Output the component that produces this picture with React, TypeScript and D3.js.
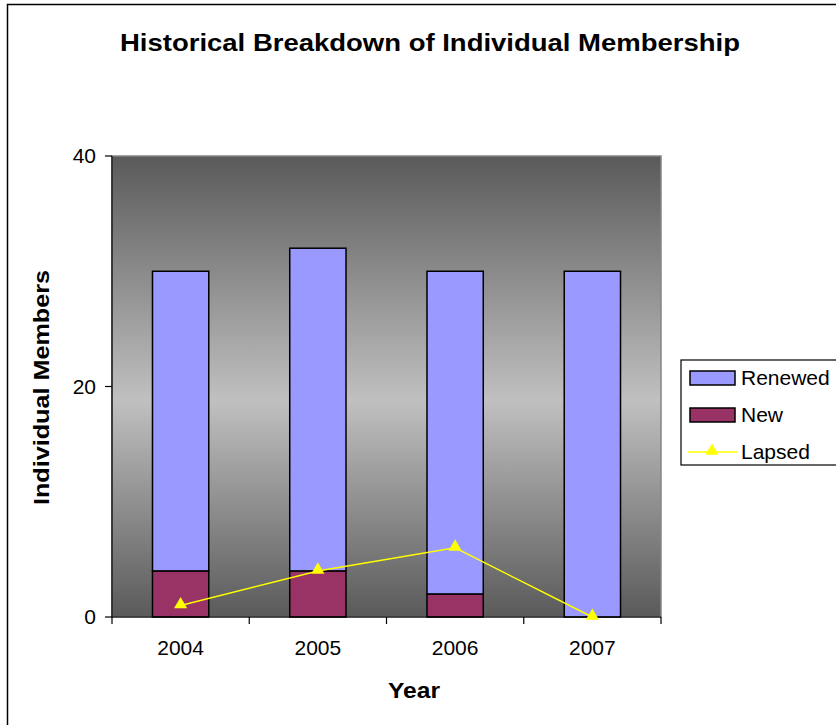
import { useEffect, useRef } from "react";
import * as d3 from "d3";

const years = ["2004", "2005", "2006", "2007"];
const newMembers = [4, 4, 2, 0];
const renewed = [26, 28, 28, 30];
const lapsed = [1, 4, 6, 0];
const yTicks = [0, 20, 40];
const seriesNames = ["Renewed", "New", "Lapsed"];

const W = 836;
const H = 725;
const FONT = "'Liberation Sans', Arial, sans-serif";

export default function App() {
  const ref = useRef<SVGSVGElement>(null);

  useEffect(() => {
    document.body.style.margin = "0";
    const svg = d3.select(ref.current);
    svg.selectAll("*").remove();

    const m = { left: 112, top: 156, right: 661, bottom: 617 };
    const x = d3.scaleBand().domain(years).range([m.left, m.right]).paddingInner(0.59).paddingOuter(0.295);
    const y = d3.scaleLinear().domain([0, 40]).range([m.bottom, m.top]);

    // frame
    svg.append("rect").attr("x", 7.5).attr("y", 4.5).attr("width", W).attr("height", H)
      .attr("fill", "white").attr("stroke", "#000").attr("stroke-width", 1.5);

    const defs = svg.append("defs");
    const grad = defs.append("linearGradient").attr("id", "bg").attr("x1", 0).attr("y1", 0).attr("x2", 0).attr("y2", 1);
    grad.append("stop").attr("offset", "0%").attr("stop-color", "#5a5a5a");
    grad.append("stop").attr("offset", "53%").attr("stop-color", "#c0c0c0");
    grad.append("stop").attr("offset", "100%").attr("stop-color", "#5a5a5a");

    svg.append("rect").attr("x", m.left).attr("y", m.top)
      .attr("width", m.right - m.left).attr("height", m.bottom - m.top)
      .attr("fill", "url(#bg)").attr("stroke", "#858585").attr("stroke-width", 1.5);

    // title
    svg.append("text").attr("x", 120).attr("y", 51)
      .attr("font-family", FONT).attr("font-weight", "bold").attr("font-size", 24)
      .attr("textLength", 620).attr("lengthAdjust", "spacingAndGlyphs")
      .text("Historical Breakdown of Individual Membership");

    // bars
    const g = svg.append("g");
    years.forEach((yr, i) => {
      const bx = x(yr)!;
      const bw = x.bandwidth();
      if (newMembers[i] > 0) {
        g.append("rect").attr("x", bx).attr("y", y(newMembers[i])).attr("width", bw)
          .attr("height", y(0) - y(newMembers[i])).attr("fill", "#993366")
          .attr("stroke", "#000").attr("stroke-width", 1.5);
      }
      const top = newMembers[i] + renewed[i];
      g.append("rect").attr("x", bx).attr("y", y(top)).attr("width", bw)
        .attr("height", y(newMembers[i]) - y(top)).attr("fill", "#9999ff")
        .attr("stroke", "#000").attr("stroke-width", 1.5);
    });

    // axes
    const ax = svg.append("g").attr("font-family", FONT);
    ax.append("line").attr("x1", m.left).attr("x2", m.left).attr("y1", m.top).attr("y2", m.bottom)
      .attr("stroke", "#000").attr("stroke-width", 1.2);
    ax.append("line").attr("x1", m.left).attr("x2", m.right).attr("y1", m.bottom).attr("y2", m.bottom)
      .attr("stroke", "#000").attr("stroke-width", 1.2);
    yTicks.forEach((t) => {
      ax.append("line").attr("x1", m.left - 7).attr("x2", m.left).attr("y1", y(t)).attr("y2", y(t))
        .attr("stroke", "#000").attr("stroke-width", 1.2);
      ax.append("text").attr("x", 96).attr("y", y(t)).attr("dy", "0.35em").attr("text-anchor", "end")
        .attr("font-size", 21).text(String(t));
    });
    const step = x.step();
    for (let i = 0; i <= years.length; i++) {
      const tx = m.left + i * step;
      ax.append("line").attr("x1", tx).attr("x2", tx).attr("y1", m.bottom).attr("y2", m.bottom + 7)
        .attr("stroke", "#000").attr("stroke-width", 1.2);
    }
    years.forEach((yr) => {
      ax.append("text").attr("x", x(yr)! + x.bandwidth() / 2).attr("y", 655).attr("text-anchor", "middle")
        .attr("font-size", 21).text(yr);
    });
    ax.append("text").attr("x", 388).attr("y", 698)
      .attr("font-size", 22).attr("font-weight", "bold")
      .attr("textLength", 52).attr("lengthAdjust", "spacingAndGlyphs").text("Year");
    ax.append("text").attr("transform", `translate(49,505) rotate(-90)`)
      .attr("font-size", 22).attr("font-weight", "bold")
      .attr("textLength", 235).attr("lengthAdjust", "spacingAndGlyphs").text("Individual Members");

    // lapsed line
    const cx = (i: number) => x(years[i])! + x.bandwidth() / 2;
    const lineFn = d3.line<number>().x((_, i) => cx(i)).y((d) => y(d));
    svg.append("path").datum(lapsed).attr("d", lineFn).attr("fill", "none")
      .attr("stroke", "#ffff00").attr("stroke-width", 1.5);
    const tri = d3.symbol().type(d3.symbolTriangle).size(75);
    lapsed.forEach((v, i) => {
      svg.append("path").attr("d", tri()).attr("transform", `translate(${cx(i)},${y(v) - 1})`)
        .attr("fill", "#ffff00");
    });

    // legend
    const lg = svg.append("g").attr("font-family", FONT);
    lg.append("rect").attr("x", 681).attr("y", 360).attr("width", 170).attr("height", 105)
      .attr("fill", "white").attr("stroke", "#000").attr("stroke-width", 1.2);
    const colors = ["#9999ff", "#993366"];
    seriesNames.forEach((name, i) => {
      const cy = 378 + i * 37;
      if (i < 2) {
        lg.append("rect").attr("x", 690).attr("y", cy - 7).attr("width", 45).attr("height", 14)
          .attr("fill", colors[i]).attr("stroke", "#000").attr("stroke-width", 1.5);
      } else {
        lg.append("line").attr("x1", 688).attr("x2", 737).attr("y1", cy).attr("y2", cy)
          .attr("stroke", "#ffff00").attr("stroke-width", 1.5);
        lg.append("path").attr("d", tri()).attr("transform", `translate(712,${cy - 1})`).attr("fill", "#ffff00");
      }
      lg.append("text").attr("x", 741).attr("y", cy).attr("dy", "0.35em").attr("font-size", 21).text(name);
    });
  }, []);

  return <svg ref={ref} width={W} height={H} style={{ display: "block" }} />;
}
